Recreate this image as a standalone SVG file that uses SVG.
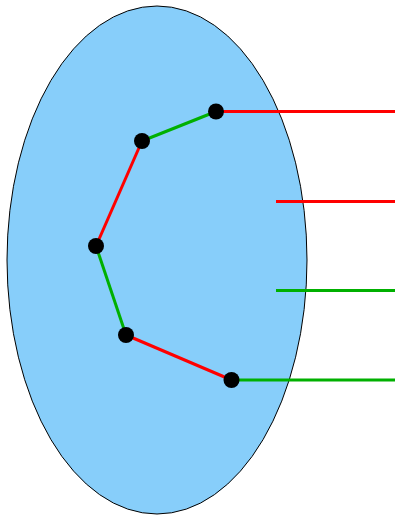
<svg xmlns="http://www.w3.org/2000/svg" width="395" height="515" viewBox="0 0 395 515">
<style>
.red{stroke:#ff0000;stroke-width:3;fill:none}
.green{stroke:#00b000;stroke-width:3;fill:none}
.dot{fill:#000}
</style>
<g id="ellipse"><ellipse cx="157" cy="260" rx="150" ry="254" fill="#87cefa" stroke="#000" stroke-width="1"/></g>
<g id="connectors">
<line class="red" x1="216" y1="111.5" x2="395" y2="111.5"/>
<line class="red" x1="276" y1="201.5" x2="395" y2="201.5"/>
<line class="green" x1="276" y1="290.5" x2="395" y2="290.5"/>
<line class="green" x1="231.5" y1="380" x2="395" y2="380"/>
<line class="green" x1="216" y1="111.5" x2="142" y2="141"/>
<line class="red" x1="142" y1="141" x2="96" y2="246"/>
<line class="green" x1="96" y1="246" x2="126" y2="335"/>
<line class="red" x1="126" y1="335" x2="231.5" y2="380"/>
</g>
<g id="p1"><circle class="dot" cx="216" cy="111.5" r="8"/></g>
<g id="p2"><circle class="dot" cx="142" cy="141" r="8"/></g>
<g id="p3"><circle class="dot" cx="96" cy="246" r="8"/></g>
<g id="p4"><circle class="dot" cx="126" cy="335" r="8"/></g>
<g id="p5"><circle class="dot" cx="231.5" cy="380" r="8"/></g>
</svg>
